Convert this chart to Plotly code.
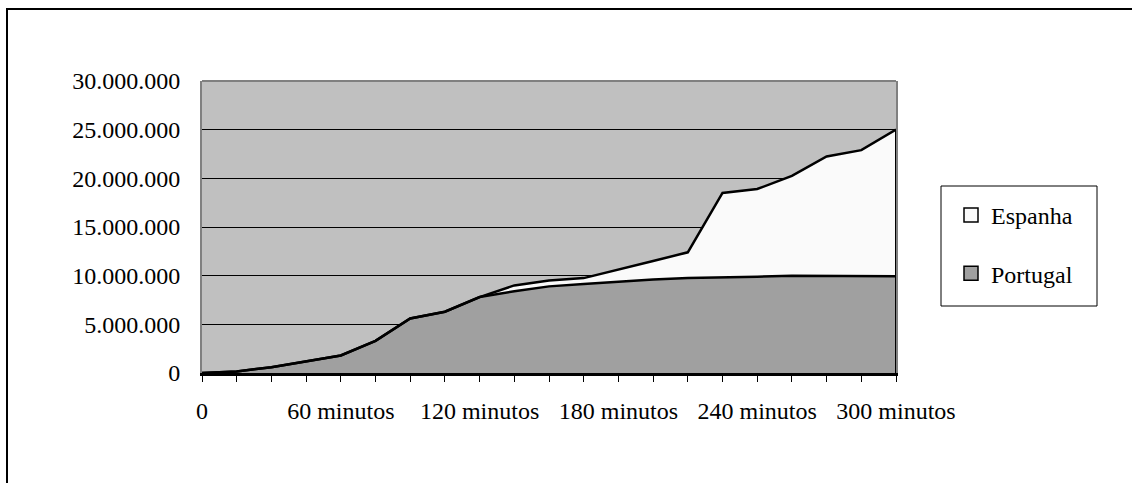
import plotly.graph_objects as go

# ---- data ----
minutes = [0, 15, 30, 45, 60, 75, 90, 105, 120, 135, 150, 165, 180, 195, 210, 225, 240, 255, 270, 285, 300]
portugal = [0, 150000, 600000, 1200000, 1800000, 3300000, 5600000, 6300000, 7800000, 8400000,
            8900000, 9150000, 9400000, 9600000, 9750000, 9800000, 9900000, 10000000, 10000000,
            9950000, 9950000]
espanha = [0, 0, 0, 0, 0, 0, 0, 0, 0, 600000,
           600000, 600000, 1200000, 1900000, 2650000, 8700000, 9000000, 10250000, 12250000,
           12950000, 15050000]
x_labeled = {0: "0", 60: "60 minutos", 120: "120 minutos", 180: "180 minutos",
             240: "240 minutos", 300: "300 minutos"}
y_ticks = [0, 5000000, 10000000, 15000000, 20000000, 25000000, 30000000]
y_labels = ["0", "5.000.000", "10.000.000", "15.000.000", "20.000.000", "25.000.000", "30.000.000"]

FONT = "Liberation Serif"
FS = 24
W, H = 1132, 483
ML, MR, MT, MB = 202, 236, 81, 110
PW, PH = W - ML - MR, H - MT - MB


def px(x):
    return (x - ML) / PW


def py(y):
    return (H - MB - y) / PH


fig = go.Figure()
fig.add_trace(go.Scatter(x=minutes, y=portugal, name="Portugal", stackgroup="one", mode="lines",
                         line=dict(color="black", width=2.5), fillcolor="#A0A0A0", showlegend=False))
fig.add_trace(go.Scatter(x=minutes, y=espanha, name="Espanha", stackgroup="one", mode="lines",
                         line=dict(color="black", width=2.5), fillcolor="#FAFAFA", showlegend=False))

# legend entries (square symbols)
fig.add_trace(go.Scatter(x=[None], y=[None], mode="markers", name="Espanha", legendgroup="e",
                         marker=dict(symbol="square", size=14, color="#FAFAFA",
                                     line=dict(color="black", width=1.5))))
fig.add_trace(go.Scatter(x=[None], y=[None], mode="markers", name="Portugal", legendgroup="p",
                         marker=dict(symbol="square", size=14, color="#A0A0A0",
                                     line=dict(color="black", width=1.5))))

total_last = portugal[-1] + espanha[-1]

fig.update_layout(
    width=W, height=H,
    margin=dict(l=ML, r=MR, t=MT, b=MB, pad=0),
    paper_bgcolor="white", plot_bgcolor="#C0C0C0",
    font=dict(family=FONT, size=FS, color="black"),
    showlegend=True,
    legend=dict(x=px(951), y=py(193), xanchor="left", yanchor="top",
                bgcolor="rgba(0,0,0,0)", borderwidth=0, traceorder="grouped",
                tracegroupgap=24, font=dict(family=FONT, size=FS, color="black")),
    xaxis=dict(range=[0, 300], tickvals=minutes,
               ticktext=[x_labeled.get(m, "") for m in minutes],
               showgrid=False, zeroline=False, showline=True, linecolor="black", linewidth=2.5,
               ticks="outside", ticklen=6, tickwidth=1, tickcolor="black",
               ticklabelstandoff=8, tickfont=dict(family=FONT, size=FS, color="black")),
    yaxis=dict(range=[0, 30000000], tickvals=y_ticks, ticktext=y_labels,
               showgrid=True, gridcolor="black", gridwidth=1, zeroline=False,
               showline=True, linecolor="#808080", linewidth=2, mirror=True,
               ticks="", ticklabelstandoff=15,
               tickfont=dict(family=FONT, size=FS, color="black")),
    shapes=[
        # top border of plot area
        dict(type="line", xref="paper", yref="paper", x0=0, x1=1, y0=1, y1=1,
             line=dict(color="#808080", width=2)),
        # right edge of the stacked area
        dict(type="line", xref="x", yref="y", x0=minutes[-1], x1=minutes[-1], y0=0, y1=total_last,
             line=dict(color="black", width=2), layer="above"),
        # legend box
        dict(type="rect", xref="paper", yref="paper", x0=px(941), x1=px(1097), y0=py(306), y1=py(186),
             line=dict(color="black", width=1), fillcolor="white", layer="below"),
        # outer chart border
        dict(type="rect", xref="paper", yref="paper", x0=px(7), x1=px(1200), y0=py(560), y1=py(9),
             line=dict(color="black", width=2), fillcolor="rgba(0,0,0,0)"),
    ],
)

fig.write_html("out.html")
